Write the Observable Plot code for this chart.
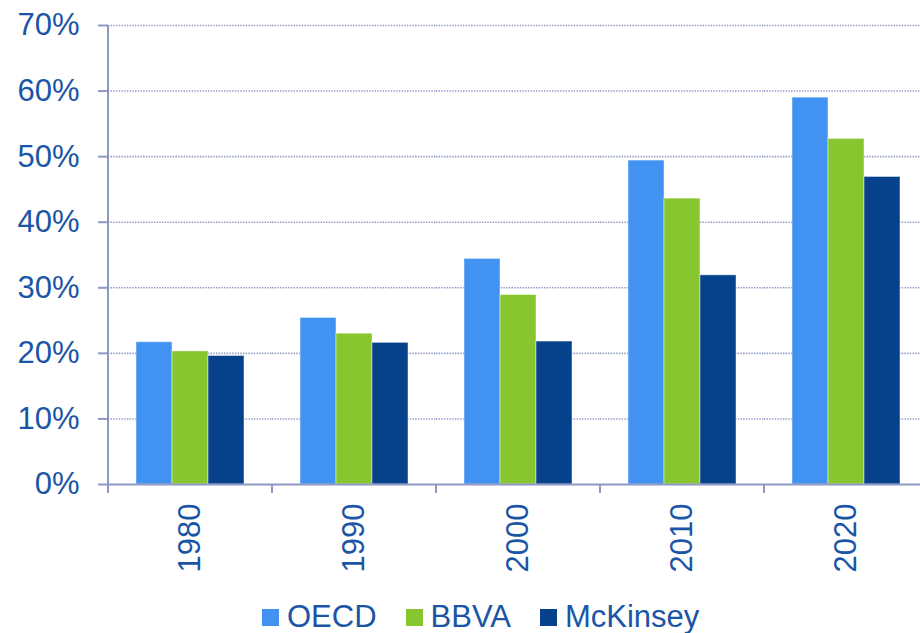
<!DOCTYPE html>
<html>
<head>
<meta charset="utf-8">
<script src="https://cdn.jsdelivr.net/npm/d3@7"></script>
<script src="https://cdn.jsdelivr.net/npm/@observablehq/plot@0.6"></script>
<style>
  html, body { margin: 0; padding: 0; background: #fff; overflow: hidden; }
  #wrap { position: relative; width: 920px; height: 633px; }
  #legend { position: absolute; top: 600px; left: 262px; height: 34px; display: flex; align-items: center;
            font-family: "Liberation Sans", Arial, sans-serif; font-size: 31px; color: #1a55a6; }
  .item { display: flex; align-items: center; margin-right: 29px; }
  .sw { width: 17px; height: 17px; margin-right: 8px; }
</style>
</head>
<body>
<div id="wrap"></div>
<script>
const years = ["1980", "1990", "2000", "2010", "2020"];
const seriesNames = ["OECD", "BBVA", "McKinsey"];
const oecd = [21.7, 25.4, 34.4, 49.4, 59.0];
const bbva = [20.3, 23.0, 28.9, 43.6, 52.7];
const mckinsey = [19.6, 21.6, 21.8, 31.9, 46.9];
const seriesColors = ["#4192f1", "#88c630", "#06428b"];
const yTicks = [0, 10, 20, 30, 40, 50, 60, 70];

const textColor = "#1a55a6";
const axisColor = "#8e98c4";

const values = [oecd, bbva, mckinsey];
const data = [];
years.forEach((yr, i) => seriesNames.forEach((s, j) => data.push({year: yr, series: s, value: values[j][i]})));

const plot = Plot.plot({
  width: 929,
  height: 590,
  marginLeft: 107,
  marginRight: 1,
  marginTop: 25,
  marginBottom: 106,
  style: {fontFamily: "'Liberation Sans', Arial, sans-serif", background: "white", maxWidth: "none", overflow: "visible"},
  fx: {domain: years, paddingInner: 0, paddingOuter: 0, label: null, axis: null},
  x: {domain: seriesNames, paddingInner: 0, paddingOuter: 0.74, axis: null},
  y: {domain: [0, 70], axis: null},
  color: {domain: seriesNames, range: seriesColors},
  marks: [
    Plot.gridY(yTicks.slice(1), {stroke: axisColor, strokeOpacity: 1, strokeWidth: 1.6, strokeDasharray: "1.4,1.3"}),
    Plot.barY(data, {fx: "year", x: "series", y: "value", fill: "series", stroke: "white", strokeOpacity: 0.45, strokeWidth: 1, inset: 0}),
    Plot.ruleY([0], {stroke: axisColor, strokeWidth: 2}),
    Plot.axisY(yTicks, {tickSize: 10, tickPadding: 19, stroke: axisColor, strokeWidth: 2, fill: textColor, fontSize: 31, tickFormat: d => d + "%", label: null}),
    Plot.axisFx({anchor: "bottom", tickRotate: -90, tickSize: 0, tickPadding: 19, fill: textColor, fontSize: 31, label: null})
  ]
});

document.getElementById("wrap").appendChild(plot);

// axis line and category boundary ticks, positioned through Plot's own scales
const fx = plot.scale("fx");
const ys = plot.scale("y");
const svg = d3.select(plot);
const g = svg.append("g").attr("stroke", axisColor).attr("stroke-width", 2);
const y0 = ys.apply(0);
const x0 = fx.apply(years[0]);
g.append("line").attr("x1", x0).attr("x2", x0).attr("y1", ys.apply(70)).attr("y2", y0 + 9);
years.concat(["__end"]).forEach((yr, i) => {
  const x = i < years.length ? fx.apply(yr) : fx.apply(years[years.length - 1]) + fx.step;
  g.append("line").attr("x1", x).attr("x2", x).attr("y1", y0).attr("y2", y0 + 9);
});

// legend
const legend = document.createElement("div");
legend.id = "legend";
seriesNames.forEach((s, i) => {
  const item = document.createElement("div");
  item.className = "item";
  const sw = document.createElement("div");
  sw.className = "sw";
  sw.style.background = seriesColors[i];
  const t = document.createElement("span");
  t.textContent = s;
  item.appendChild(sw);
  item.appendChild(t);
  legend.appendChild(item);
});
document.getElementById("wrap").appendChild(legend);
</script>
</body>
</html>
